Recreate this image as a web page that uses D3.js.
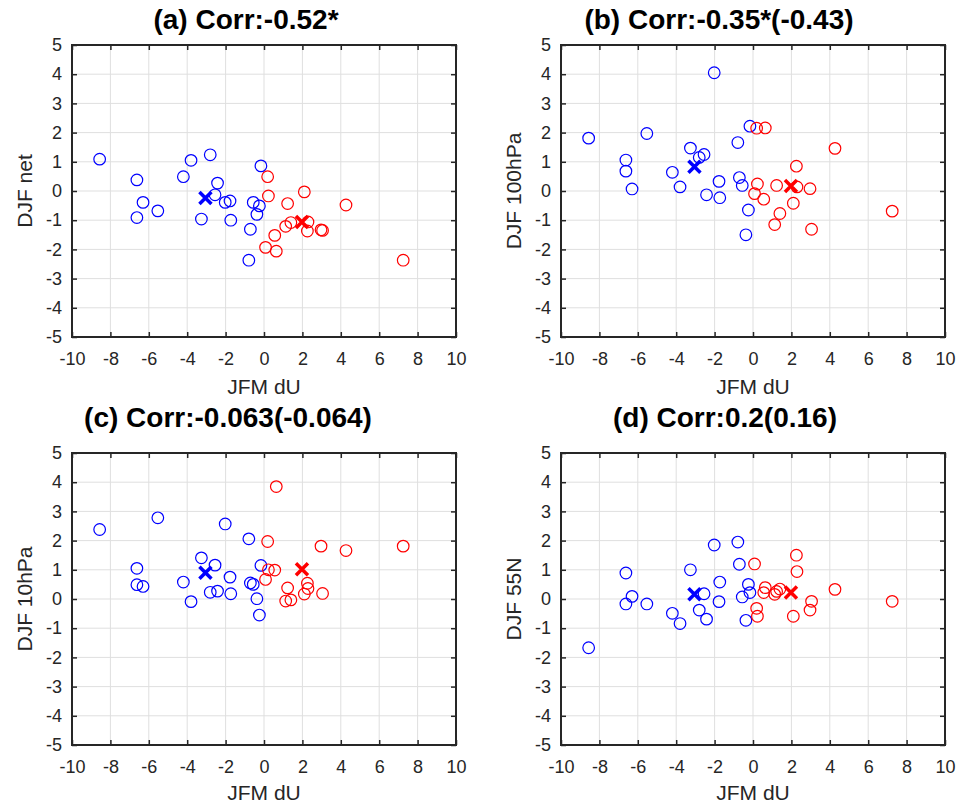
<!DOCTYPE html>
<html>
<head>
<meta charset="utf-8">
<script src="https://cdn.jsdelivr.net/npm/d3@7"></script>
<style>
  body { margin: 0; background: #fff; }
  text { font-family: "Liberation Sans", Arial, Helvetica, sans-serif; }
</style>
</head>
<body>
<div id="chart"></div>
<script>
// JFM dU for the two groups (blue = weak, red = strong)
const duBlue = [-8.56, -6.62, -6.62, -6.30, -5.53, -4.20, -3.80, -3.26, -2.80, -2.55,
                -2.42, -2.02, -1.77, -1.73, -0.79, -0.71, -0.56, -0.37, -0.24, -0.16];
const duRed = [0.08, 0.19, 0.23, 0.56, 0.64, 1.13, 1.23, 1.40, 2.10, 2.26,
               2.29, 2.97, 3.05, 4.27, 7.25];

// DJF values, one pair of arrays per panel
const netBlue = [1.09, 0.38, -0.91, -0.39, -0.68, 0.49, 1.05, -0.96, 1.24, -0.13,
                 0.27, -0.39, -0.34, -1.00, -2.37, -1.31, -0.39, -0.80, -0.51, 0.86];
const netRed = [-1.93, 0.49, -0.17, -1.52, -2.06, -1.21, -0.43, -1.08, -0.03, -1.37,
                -1.06, -1.33, -1.35, -0.48, -2.37];

const hpa100Blue = [1.81, 1.06, 0.68, 0.07, 1.97, 0.64, 0.14, 1.47, 1.15, 1.25,
                    -0.13, 4.05, 0.33, -0.23, 1.66, 0.46, 0.19, -1.50, -0.65, 2.22];
const hpa100Red = [-0.09, 2.15, 0.24, -0.28, 2.16, -1.15, 0.19, -0.77, -0.42, 0.85,
                   0.14, 0.08, -1.31, 1.46, -0.69];

const hpa10Blue = [2.38, 1.05, 0.49, 0.43, 2.78, 0.58, -0.09, 1.41, 0.23, 1.16,
                   0.27, 2.57, 0.75, 0.18, 2.06, 0.55, 0.50, 0.01, -0.55, 1.15];
const hpa10Red = [0.67, 1.97, 1.00, 0.99, 3.85, -0.07, 0.38, -0.03, 0.17, 0.54,
                  0.36, 1.81, 0.19, 1.66, 1.81];

const n55Blue = [-1.67, 0.89, -0.17, 0.09, -0.17, -0.49, -0.84, 1.00, -0.38, 0.18,
                 -0.69, 1.85, -0.09, 0.58, 1.95, 1.19, 0.07, -0.73, 0.50, 0.22];
const n55Red = [1.20, -0.32, -0.59, 0.22, 0.39, 0.16, 0.26, 0.34, -0.59, 1.50,
                0.94, -0.38, -0.08, 0.33, -0.08];

const titles = ["(a) Corr:-0.52*", "(b) Corr:-0.35*(-0.43)",
                "(c) Corr:-0.063(-0.064)", "(d) Corr:0.2(0.16)"];
const yLabels = ["DJF net", "DJF 100hPa", "DJF 10hPa", "DJF 55N"];
const xLabel = "JFM dU";
const xTicks = [-10, -8, -6, -4, -2, 0, 2, 4, 6, 8, 10];
const yTicks = [-5, -4, -3, -2, -1, 0, 1, 2, 3, 4, 5];

const panels = [
    { blue: netBlue, red: netRed },
    { blue: hpa100Blue, red: hpa100Red },
    { blue: hpa10Blue, red: hpa10Red },
    { blue: n55Blue, red: n55Red }
];

const width = 966, height = 805;
const pw = 384, ph = 292;
const origins = [[72, 45], [561, 45], [72, 453], [561, 453]];
const titleX = [174, 158, 156, 164];
const titleY = [-16, -16, -26, -26];
const xLabelY = [57, 57, 55, 55];
const ink = "#262626";

const svg = d3.select("#chart").append("svg")
    .attr("width", width)
    .attr("height", height);

const x = d3.scaleLinear().domain([-10, 10]).range([0, pw]);
const y = d3.scaleLinear().domain([-5, 5]).range([ph, 0]);
const plain = d => String(d);   // hyphen minus, like the original

panels.forEach((p, i) => {
    const g = svg.append("g")
        .attr("transform", `translate(${origins[i][0]}, ${origins[i][1]})`);

    // grid
    g.selectAll(".vgrid").data(xTicks).enter().append("line")
        .attr("x1", d => x(d)).attr("x2", d => x(d))
        .attr("y1", 0).attr("y2", ph)
        .attr("stroke", "#dfdfdf").attr("stroke-width", 1);
    g.selectAll(".hgrid").data(yTicks).enter().append("line")
        .attr("x1", 0).attr("x2", pw)
        .attr("y1", d => y(d)).attr("y2", d => y(d))
        .attr("stroke", "#dfdfdf").attr("stroke-width", 1);

    // axes, ticks pointing inward
    const axes = [
        g.append("g").attr("transform", `translate(0, ${ph})`)
            .call(d3.axisBottom(x).tickValues(xTicks).tickFormat(plain).tickSize(-5).tickPadding(15)),
        g.append("g")
            .call(d3.axisLeft(y).tickValues(yTicks).tickFormat(plain).tickSize(-5).tickPadding(10)),
        g.append("g")
            .call(d3.axisTop(x).tickValues(xTicks).tickSize(-5).tickFormat("")),
        g.append("g").attr("transform", `translate(${pw}, 0)`)
            .call(d3.axisRight(y).tickValues(yTicks).tickSize(-5).tickFormat(""))
    ];
    axes.forEach(a => {
        a.select(".domain").remove();
        a.selectAll("line").attr("stroke", ink).attr("stroke-width", 1.5);
        a.selectAll("text").attr("fill", ink).style("font-size", "18px");
    });

    g.append("rect")
        .attr("width", pw).attr("height", ph)
        .attr("fill", "none")
        .attr("stroke", ink).attr("stroke-width", 2);

    // points
    const groups = [
        { xs: duBlue, ys: p.blue, color: "#0000ff" },
        { xs: duRed, ys: p.red, color: "#ff0000" }
    ];
    groups.forEach(grp => {
        g.selectAll(null).data(grp.ys).enter().append("circle")
            .attr("cx", (d, j) => x(grp.xs[j]))
            .attr("cy", d => y(d))
            .attr("r", 5.8)
            .attr("fill", "none")
            .attr("stroke", grp.color)
            .attr("stroke-width", 1.2);
    });

    // group means
    groups.forEach(grp => {
        const mx = x(d3.mean(grp.xs)), my = y(d3.mean(grp.ys));
        g.append("path")
            .attr("d", "M-6,-6L6,6M-6,6L6,-6")
            .attr("transform", `translate(${mx}, ${my})`)
            .attr("stroke", grp.color)
            .attr("stroke-width", 3.5)
            .attr("fill", "none");
    });

    g.append("text")
        .attr("x", titleX[i]).attr("y", titleY[i])
        .attr("text-anchor", "middle")
        .style("font-size", "28px").style("font-weight", "bold")
        .attr("fill", "#000")
        .text(titles[i]);

    g.append("text")
        .attr("x", pw / 2).attr("y", ph + xLabelY[i])
        .attr("text-anchor", "middle")
        .style("font-size", "21px")
        .attr("fill", ink)
        .text(xLabel);

    g.append("text")
        .attr("transform", `translate(-40, ${ph / 2}) rotate(-90)`)
        .attr("text-anchor", "middle")
        .style("font-size", "21px")
        .attr("fill", ink)
        .text(yLabels[i]);
});
</script>
</body>
</html>
